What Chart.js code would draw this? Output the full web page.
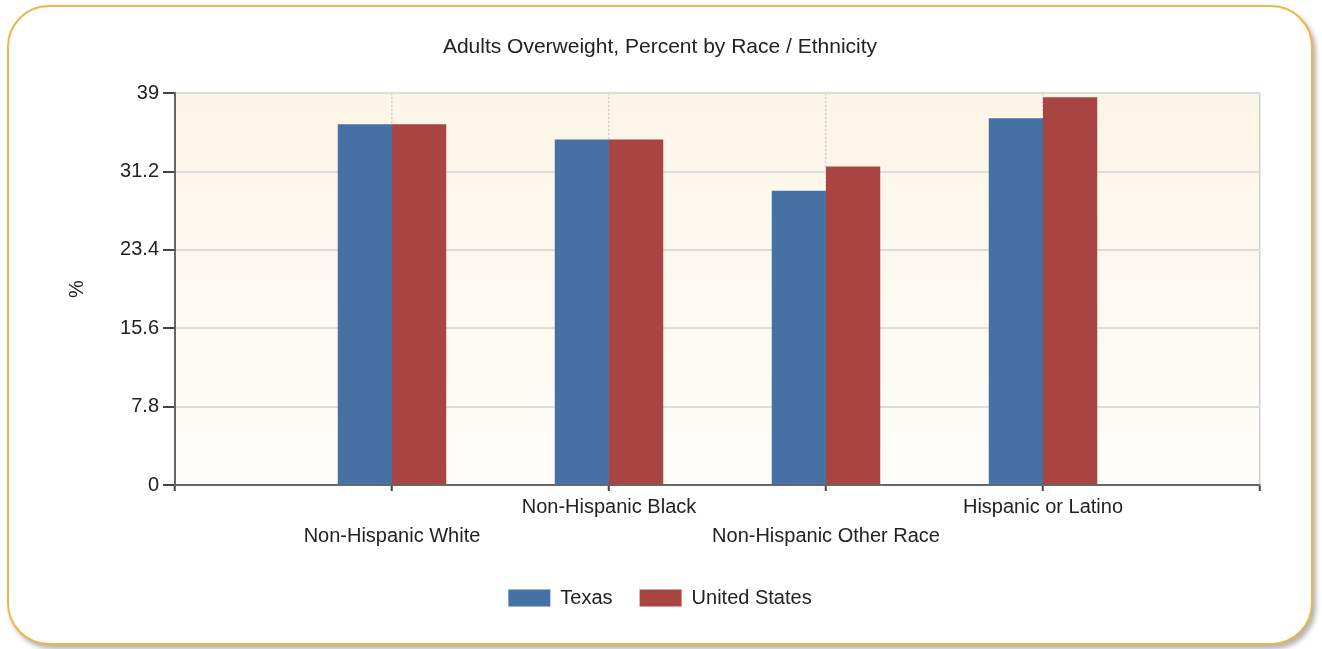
<!DOCTYPE html>
<html>
<head>
<meta charset="utf-8">
<script src="https://cdn.jsdelivr.net/npm/chart.js@4/dist/chart.umd.min.js"></script>
<style>
  body { margin: 0; background: #fff; }
  #marco {
    position: absolute; left: 7px; top: 5px; width: 1306px; height: 640px;
    box-sizing: border-box; border: 2px solid #f0b44a; border-radius: 42px;
    box-shadow: 3px 4px 5px rgba(0, 0, 0, 0.3); background: #fff;
  }
  #grafico { position: absolute; left: 0; top: 0; }
</style>
</head>
<body>
<div id="marco"></div>
<canvas id="grafico" width="1322" height="649"></canvas>
<script>
// Datos del gráfico
const categorias = ['Non-Hispanic White', 'Non-Hispanic Black', 'Non-Hispanic Other Race', 'Hispanic or Latino'];
const texas = [35.9, 34.4, 29.3, 36.5];
const estadosUnidos = [35.9, 34.4, 31.7, 38.6];
const ticksY = [0, 7.8, 15.6, 23.4, 31.2, 39];

const fuente = "'Liberation Sans', Arial, sans-serif";

// Los puntos van en x = 1..4 sobre un eje de 0 a 5
function puntos(valores) {
    return valores.map((v, i) => ({ x: i + 1, y: v }));
}

// Fondo degradado del área de trazado
const fondoArea = {
    id: 'fondoArea',
    beforeDraw(chart) {
        const { ctx, chartArea } = chart;
        const g = ctx.createLinearGradient(0, chartArea.top, 0, chartArea.bottom);
        g.addColorStop(0, 'rgb(252, 245, 231)');
        g.addColorStop(1, 'rgb(254, 253, 250)');
        ctx.save();
        ctx.fillStyle = g;
        ctx.fillRect(chartArea.left, chartArea.top, chartArea.right - chartArea.left, chartArea.bottom - chartArea.top);
        ctx.restore();
    }
};

new Chart(document.getElementById('grafico'), {
    type: 'bar',
    data: {
        datasets: [{
            label: 'Texas',
            data: puntos(texas),
            backgroundColor: '#4571a5'
        }, {
            label: 'United States',
            data: puntos(estadosUnidos),
            backgroundColor: '#a84543'
        }]
    },
    options: {
        responsive: false,
        animation: false,
        categoryPercentage: 0.5,
        barPercentage: 1.0,
        layout: { padding: { left: 60, right: 62, top: 0, bottom: 31 } },
        plugins: {
            title: {
                display: true,
                text: 'Adults Overweight, Percent by Race / Ethnicity',
                color: '#222',
                font: { family: fuente, size: 21, weight: 'normal', lineHeight: 1.2 },
                padding: { top: 35, bottom: 33 }
            },
            legend: {
                position: 'bottom',
                labels: {
                    color: '#222',
                    font: { family: fuente, size: 20 },
                    boxWidth: 42,
                    boxHeight: 17,
                    padding: 27
                }
            },
            tooltip: { enabled: false }
        },
        scales: {
            x: {
                type: 'linear',
                min: 0,
                max: 5,
                offset: false,
                afterBuildTicks: (eje) => {
                    eje.ticks = [0, 1, 2, 3, 4, 5].map(v => ({ value: v }));
                },
                afterFit: (eje) => { eje.height = 76; },
                ticks: {
                    autoSkip: false,
                    maxRotation: 0,
                    color: '#222',
                    padding: 2,
                    font: { family: fuente, size: 20, lineHeight: 1.45 },
                    callback: (v) => {
                        const i = v - 1;
                        if (i < 0 || i >= categorias.length) return '';
                        return i % 2 === 0 ? ['', categorias[i]] : [categorias[i], ''];
                    }
                },
                grid: {
                    offset: false,
                    color: '#cfcfcf',
                    lineWidth: 1.5,
                    tickLength: 6,
                    tickColor: '#444',
                    tickWidth: 2
                },
                border: {
                    color: '#666',
                    width: 2,
                    dash: (c) => (c.tick && c.tick.value > 0 && c.tick.value < 5) ? [2, 2] : []
                }
            },
            y: {
                min: 0,
                max: 39,
                afterBuildTicks: (eje) => {
                    eje.ticks = ticksY.map(v => ({ value: v }));
                },
                afterFit: (eje) => { eje.width = 115; },
                title: {
                    display: true,
                    text: '%',
                    color: '#222',
                    font: { family: fuente, size: 20, lineHeight: 1.2 },
                    padding: { top: 5, bottom: 0 }
                },
                ticks: {
                    color: '#222',
                    padding: 4,
                    font: { family: fuente, size: 20 },
                    callback: (v) => String(v)
                },
                grid: {
                    color: '#dcdcdc',
                    lineWidth: 2,
                    tickLength: 12,
                    tickColor: '#444',
                    tickWidth: 2
                },
                border: { color: '#666', width: 2 }
            }
        }
    },
    plugins: [fondoArea]
});
</script>
</body>
</html>
